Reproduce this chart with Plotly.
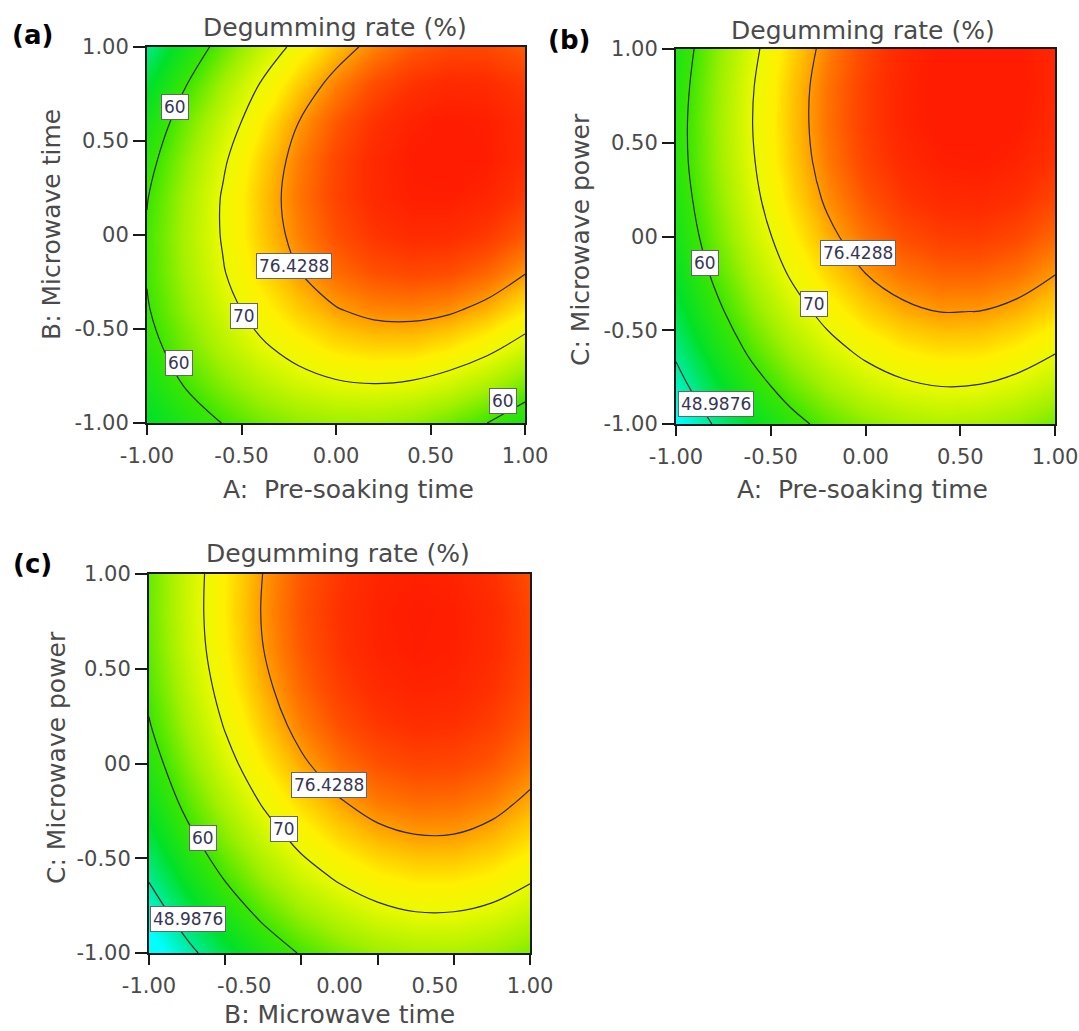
import numpy as np
import plotly.graph_objects as go

FONT = "DejaVu Sans"
TXT = "#4a4a4a"
W, H = 1079, 1031

# coded factor levels of the response grid (both axes)
grid = [-1.0, -0.8, -0.6, -0.4, -0.2, 0.0, 0.2, 0.4, 0.6, 0.8, 1.0]

# Degumming rate (%); rows = vertical factor (-1 -> 1), cols = horizontal factor (-1 -> 1)
rate_A_B = [  # (a) A: Pre-soaking time (x) vs B: Microwave time (y)
    [53.5, 57.1, 60.1, 62.5, 64.1, 64.9, 65.0, 64.2, 62.5, 60.0, 56.5],
    [56.1, 60.2, 63.5, 66.2, 68.2, 69.4, 69.8, 69.4, 68.1, 65.9, 62.8],
    [58.2, 62.5, 66.3, 69.3, 71.6, 73.2, 73.9, 73.9, 72.9, 71.1, 68.3],
    [59.6, 64.3, 68.3, 71.7, 74.3, 76.2, 77.3, 77.5, 76.9, 75.4, 72.9],
    [60.3, 65.3, 69.7, 73.4, 76.3, 78.5, 79.9, 80.4, 80.1, 78.8, 76.6],
    [60.4, 65.7, 70.3, 74.3, 77.5, 80.0, 81.7, 82.5, 82.4, 81.4, 79.5],
    [59.8, 65.3, 70.3, 74.5, 78.0, 80.7, 82.6, 83.7, 83.8, 83.1, 81.4],
    [58.4, 64.2, 69.4, 73.9, 77.6, 80.5, 82.7, 84.0, 84.4, 83.9, 82.4],
    [56.3, 62.4, 67.7, 72.4, 76.4, 79.5, 81.9, 83.4, 84.0, 83.7, 82.4],
    [53.4, 59.7, 65.3, 70.2, 74.3, 77.6, 80.2, 81.9, 82.7, 82.5, 81.4],
    [49.8, 56.2, 62.0, 67.0, 71.3, 74.8, 77.5, 79.4, 80.4, 80.4, 79.4],
]
rate_A_C = [  # (b) A: Pre-soaking time (x) vs C: Microwave power (y)
    [43.5, 49.3, 54.2, 58.3, 61.5, 63.9, 65.4, 66.0, 65.7, 64.6, 62.7],
    [47.0, 52.9, 57.9, 62.0, 65.3, 67.7, 69.3, 70.0, 69.8, 68.7, 66.8],
    [50.0, 56.0, 61.1, 65.3, 68.6, 71.1, 72.7, 73.5, 73.4, 72.4, 70.5],
    [52.6, 58.6, 63.7, 68.0, 71.4, 74.0, 75.7, 76.5, 76.4, 75.5, 73.8],
    [54.7, 60.7, 65.9, 70.3, 73.8, 76.4, 78.1, 79.0, 79.0, 78.2, 76.5],
    [56.2, 62.4, 67.7, 72.1, 75.6, 78.3, 80.1, 81.1, 81.2, 80.4, 78.7],
    [57.3, 63.5, 68.9, 73.4, 77.0, 79.7, 81.6, 82.6, 82.8, 82.1, 80.5],
    [58.0, 64.2, 69.6, 74.2, 77.9, 80.7, 82.6, 83.7, 83.9, 83.3, 81.8],
    [58.1, 64.4, 69.9, 74.5, 78.3, 81.1, 83.2, 84.3, 84.6, 84.0, 82.6],
    [57.7, 64.1, 69.7, 74.4, 78.2, 81.1, 83.2, 84.4, 84.8, 84.3, 82.9],
    [56.9, 63.4, 69.0, 73.7, 77.6, 80.6, 82.8, 84.1, 84.5, 84.1, 82.8],
]
rate_B_C = [  # (c) B: Microwave time (x) vs C: Microwave power (y)
    [41.5, 47.5, 52.6, 56.9, 60.4, 63.0, 64.8, 65.7, 65.8, 65.0, 63.4],
    [45.7, 51.7, 56.8, 61.0, 64.5, 67.0, 68.8, 69.7, 69.7, 68.9, 67.2],
    [49.5, 55.4, 60.4, 64.7, 68.1, 70.6, 72.3, 73.1, 73.1, 72.3, 70.6],
    [52.7, 58.6, 63.6, 67.8, 71.2, 73.7, 75.3, 76.1, 76.1, 75.2, 73.5],
    [55.5, 61.4, 66.3, 70.5, 73.8, 76.2, 77.9, 78.6, 78.5, 77.6, 75.8],
    [57.8, 63.6, 68.6, 72.7, 75.9, 78.4, 79.9, 80.6, 80.5, 79.6, 77.8],
    [59.7, 65.4, 70.3, 74.4, 77.6, 80.0, 81.5, 82.2, 82.0, 81.0, 79.2],
    [61.0, 66.7, 71.6, 75.6, 78.8, 81.1, 82.6, 83.3, 83.1, 82.0, 80.1],
    [61.9, 67.6, 72.4, 76.4, 79.5, 81.8, 83.3, 83.9, 83.6, 82.5, 80.6],
    [62.3, 67.9, 72.7, 76.7, 79.8, 82.0, 83.4, 84.0, 83.7, 82.6, 80.6],
    [62.2, 67.8, 72.6, 76.5, 79.5, 81.7, 83.1, 83.6, 83.3, 82.1, 80.1],
]

levels_a = [60, 70, 76.4288]
levels_bc = [48.9876, 60, 70, 76.4288]

labels_a = [("60", -0.853, 0.683), ("76.4288", -0.223, -0.163), ("70", -0.486, -0.43), ("60", -0.83, -0.68), ("60", 0.885, -0.884)]
labels_b = [("60", -0.846, -0.14), ("70", -0.274, -0.36), ("76.4288", -0.038, -0.087), ("48.9876", -0.79, -0.894)]
labels_c = [("76.4288", -0.055, -0.113), ("70", -0.291, -0.348), ("60", -0.718, -0.392), ("48.9876", -0.795, -0.82)]

tick_vals = [-1.0, -0.5, 0.0, 0.5, 1.0]
xtick_text = ["-1.00", "-0.50", "0.00", "0.50", "1.00"]
ytick_text = ["-1.00", "-0.50", "00", "0.50", "1.00"]
c_minor_ticks = [-1.0, -0.6, -0.2, 0.2, 0.6, 1.0]

ZMIN, ZMAX = 44, 84
stops = [(44, "rgb(0,255,255)"), (49, "rgb(0,235,150)"), (54, "rgb(0,225,40)"), (60, "rgb(60,230,0)"),
         (65, "rgb(160,240,0)"), (70, "rgb(235,250,0)"), (72.5, "rgb(255,240,0)"), (75, "rgb(255,190,0)"),
         (76.4, "rgb(255,155,0)"), (78, "rgb(255,118,0)"), (80, "rgb(255,78,0)"), (82, "rgb(255,48,0)"),
         (84, "rgb(255,28,0)")]
cscale = [[(z - ZMIN) / (ZMAX - ZMIN), c] for z, c in stops]

panels = [
    dict(z=rate_A_B, levels=levels_a, labels=labels_a, ax="", px=(147, 525), py=(47, 423),
         xtitle="A:  Pre-soaking time", ytitle="B: Microwave time", letter="(a)", letter_pos=(32, 35),
         title_pos=(335, 27), xt_pos=(348, 489), yt_pos=(51, 225)),
    dict(z=rate_A_C, levels=levels_bc, labels=labels_b, ax="2", px=(676, 1055), py=(49, 424),
         xtitle="A:  Pre-soaking time", ytitle="C: Microwave power", letter="(b)", letter_pos=(569, 40),
         title_pos=(863, 30), xt_pos=(862, 489), yt_pos=(580, 240)),
    dict(z=rate_B_C, levels=levels_bc, labels=labels_c, ax="3", px=(149, 530), py=(574, 953),
         xtitle="B: Microwave time", ytitle="C: Microwave power", letter="(c)", letter_pos=(32, 564),
         title_pos=(338, 553), xt_pos=(339, 1014), yt_pos=(56, 758)),
]

fig = go.Figure()
annotations = []
layout = {}
for p in panels:
    xa, ya = "x" + p["ax"], "y" + p["ax"]
    fig.add_trace(go.Heatmap(x=grid, y=grid, z=p["z"], zsmooth="best", colorscale=cscale, zmin=ZMIN, zmax=ZMAX,
                             showscale=False, hoverinfo="skip", xaxis=xa, yaxis=ya))
    for lv in p["levels"]:
        fig.add_trace(go.Contour(x=grid, y=grid, z=p["z"], autocontour=False,
                                 contours=dict(start=lv, end=lv, size=1, coloring="none"),
                                 line=dict(color="#2a2a2a", width=1.2, smoothing=1.0),
                                 showscale=False, hoverinfo="skip", xaxis=xa, yaxis=ya))
    for txt, u, v in p["labels"]:
        annotations.append(dict(x=u, y=v, xref=xa, yref=ya, text=txt, showarrow=False,
                                font=dict(family=FONT, size=17, color="#353555"),
                                bgcolor="white", bordercolor="#666", borderwidth=1, borderpad=2))
    x0, x1 = p["px"]
    y0, y1 = p["py"]
    common = dict(showline=True, mirror=True, linecolor="#1a1a1a", linewidth=2, showgrid=False, zeroline=False,
                  automargin=False, range=[-1, 1], tickfont=dict(family=FONT, size=21, color=TXT),
                  tickwidth=2, tickcolor="#1a1a1a")
    xaxis = dict(common, domain=[x0 / W, x1 / W], anchor=ya, tickvals=tick_vals, ticktext=xtick_text,
                 ticks="outside", ticklen=10, ticklabelstandoff=3)
    if p["ax"] == "3":
        xaxis.update(tickcolor="rgba(0,0,0,0)",
                     minor=dict(tickvals=c_minor_ticks, ticks="outside", ticklen=10, tickwidth=2, tickcolor="#1a1a1a"))
    yaxis = dict(common, domain=[1 - y1 / H, 1 - y0 / H], anchor=xa, tickvals=tick_vals, ticktext=ytick_text,
                 ticks="outside", ticklen=12)
    layout["xaxis" + p["ax"]] = xaxis
    layout["yaxis" + p["ax"]] = yaxis
    annotations.append(dict(x=p["title_pos"][0] / W, y=1 - p["title_pos"][1] / H, xref="paper", yref="paper",
                            text="Degumming rate (%)", showarrow=False, xanchor="center", yanchor="middle",
                            font=dict(family=FONT, size=25, color=TXT)))
    annotations.append(dict(x=p["xt_pos"][0] / W, y=1 - p["xt_pos"][1] / H, xref="paper", yref="paper",
                            text=p["xtitle"], showarrow=False, xanchor="center", yanchor="middle",
                            font=dict(family=FONT, size=25, color=TXT)))
    annotations.append(dict(x=p["yt_pos"][0] / W, y=1 - p["yt_pos"][1] / H, xref="paper", yref="paper",
                            text=p["ytitle"], showarrow=False, xanchor="center", yanchor="middle", textangle=-90,
                            font=dict(family=FONT, size=25, color=TXT)))
    annotations.append(dict(x=p["letter_pos"][0] / W, y=1 - p["letter_pos"][1] / H, xref="paper", yref="paper",
                            text="<b>" + p["letter"] + "</b>", showarrow=False, xanchor="center", yanchor="middle",
                            font=dict(family=FONT, size=26, color="black")))

fig.update_layout(width=W, height=H, margin=dict(l=0, r=0, t=0, b=0, pad=0, autoexpand=False), paper_bgcolor="white",
                  plot_bgcolor="white", showlegend=False, annotations=annotations, **layout)
fig.write_html("out.html")
